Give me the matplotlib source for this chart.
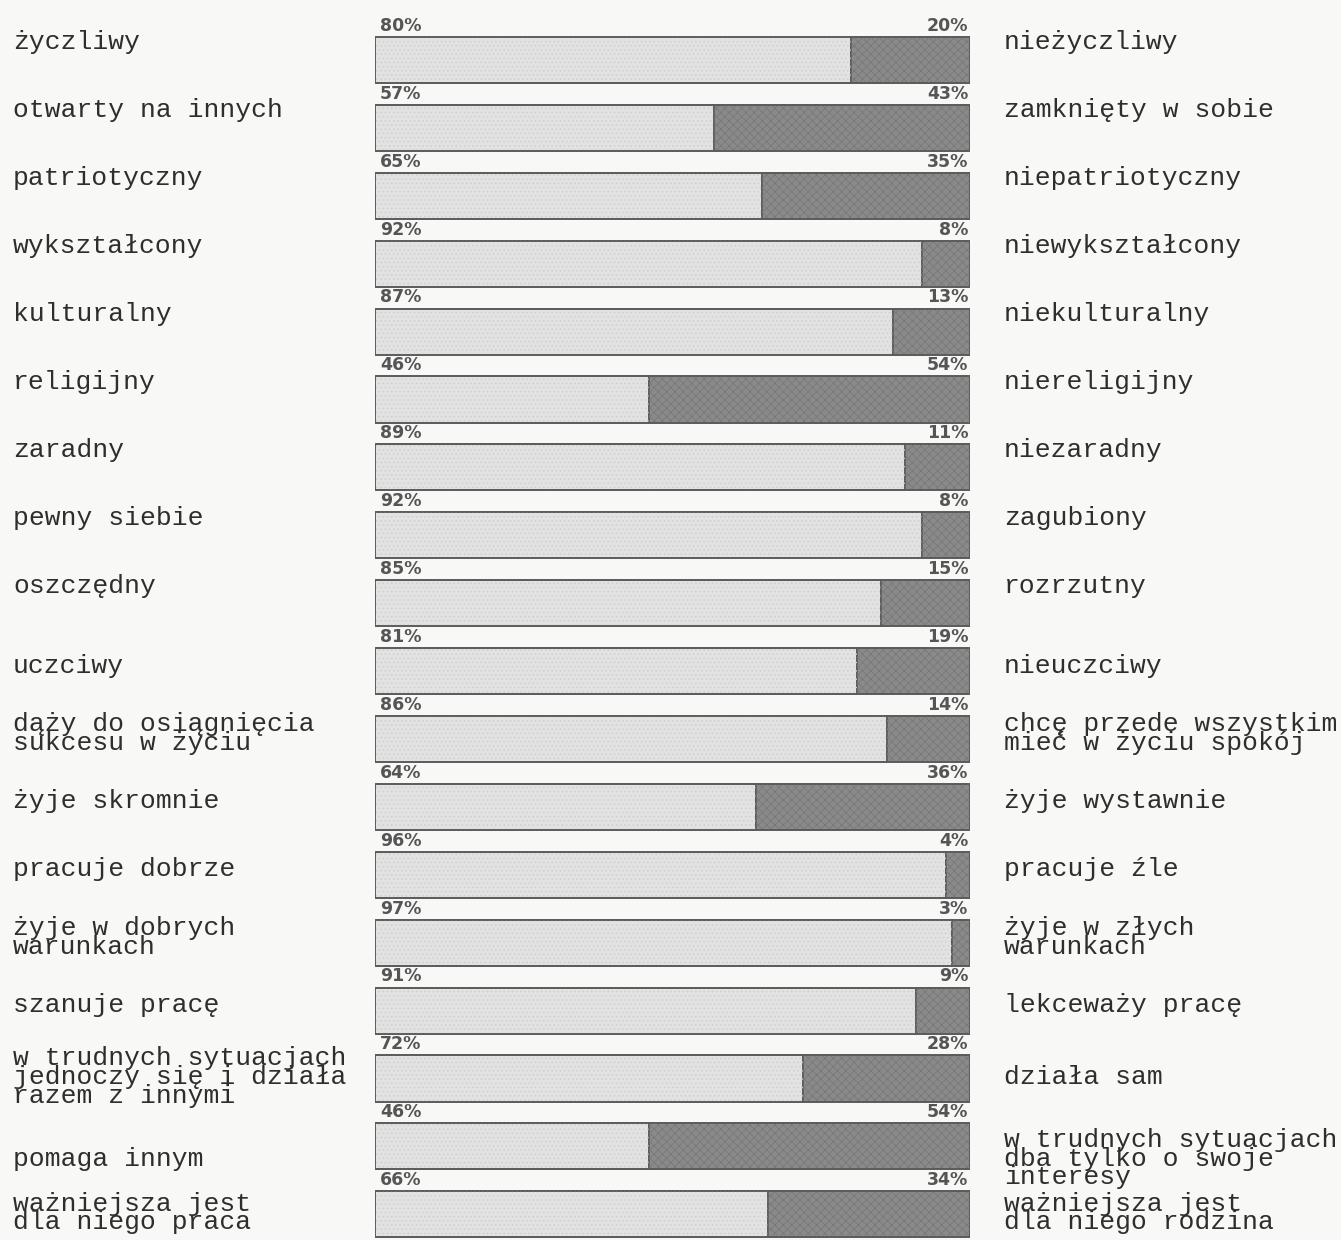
import matplotlib.pyplot as plt
import numpy as np

# share of respondents choosing the left trait (the right one is 100 - left)
left_pct = [80, 57, 65, 92, 87, 46, 89, 92, 85, 81, 86, 64, 96, 97, 91, 72, 46, 66]
right_pct = [20, 43, 35, 8, 13, 54, 11, 8, 15, 19, 14, 36, 4, 3, 9, 28, 54, 34]

left_labels = [
    "życzliwy",
    "otwarty na innych",
    "patriotyczny",
    "wykształcony",
    "kulturalny",
    "religijny",
    "zaradny",
    "pewny siebie",
    "oszczędny",
    "uczciwy",
    "dąży do osiągnięcia\nsukcesu w życiu",
    "żyje skromnie",
    "pracuje dobrze",
    "żyje w dobrych\nwarunkach",
    "szanuje pracę",
    "w trudnych sytuacjach\njednoczy się i działa\nrazem z innymi",
    "pomaga innym",
    "ważniejsza jest\ndla niego praca",
]
right_labels = [
    "nieżyczliwy",
    "zamknięty w sobie",
    "niepatriotyczny",
    "niewykształcony",
    "niekulturalny",
    "niereligijny",
    "niezaradny",
    "zagubiony",
    "rozrzutny",
    "nieuczciwy",
    "chcę przede wszystkim\nmieć w życiu spokój",
    "żyje wystawnie",
    "pracuje źle",
    "żyje w złych\nwarunkach",
    "lekceważy pracę",
    "działa sam",
    "w trudnych sytuacjach\ndba tylko o swoje\ninteresy",
    "ważniejsza jest\ndla niego rodzina",
]

plt.rcParams["hatch.linewidth"] = 0.5

W, H = 1341, 1240
fig = plt.figure(figsize=(W / 100, H / 100), dpi=100)
fig.patch.set_facecolor("#f8f8f6")

# bar area in pixels, rows spaced evenly
x0, x1 = 375, 970
row0, step = 60, 67.9
ax = fig.add_axes([x0 / W, 0, (x1 - x0) / W, 1])
ax.set_xlim(0, 100)
ax.set_ylim((H - row0) / step, -row0 / step)
ax.axis("off")

y = np.arange(len(left_pct))
bh = 0.68
plt.rcParams["hatch.color"] = "#cfcfcf"
ax.barh(y, left_pct, height=bh, color="#e2e2e2", edgecolor="#5a5a5a",
        linewidth=1.2, zorder=2)
ax.barh(y, left_pct, height=bh, color="none", edgecolor="#cdcdcd",
        linewidth=0, hatch="....", zorder=3)
ax.barh(y, right_pct, left=left_pct, height=bh, color="#8a8a8a",
        edgecolor="#5a5a5a", linewidth=1.2, zorder=2)
ax.barh(y, right_pct, left=left_pct, height=bh, color="none",
        edgecolor="#767676", linewidth=0, hatch="xxxx", zorder=3)
# redraw outlines on top of the textures
ax.barh(y, [100] * len(y), height=bh, color="none", edgecolor="#5a5a5a",
        linewidth=1.2, zorder=4)

pct_font = dict(fontsize=12.5, fontweight="bold", color="#555555",
                family="DejaVu Sans")
for i in y:
    ax.text(0.8, i - bh / 2 - 0.03, f"{left_pct[i]}%", ha="left", va="bottom", **pct_font)
    ax.text(99.7, i - bh / 2 - 0.03, f"{right_pct[i]}%", ha="right", va="bottom", **pct_font)

lab_font = dict(fontsize=19, color="#2e2e2e", family="Liberation Mono",
                linespacing=0.72, va="center")
for i in y:
    if i < 9:
        off = -0.26
    elif i < 15:
        off = -0.08
    elif i == 16:
        off = 0.18
    else:
        off = -0.02
    yy = (row0 + step * (i + off)) / H
    fig.text(13 / W, 1 - yy, left_labels[i], ha="left", **lab_font)
    fig.text(1004 / W, 1 - yy, right_labels[i], ha="left", **lab_font)

fig.savefig("out.png", dpi=100, facecolor=fig.get_facecolor())
